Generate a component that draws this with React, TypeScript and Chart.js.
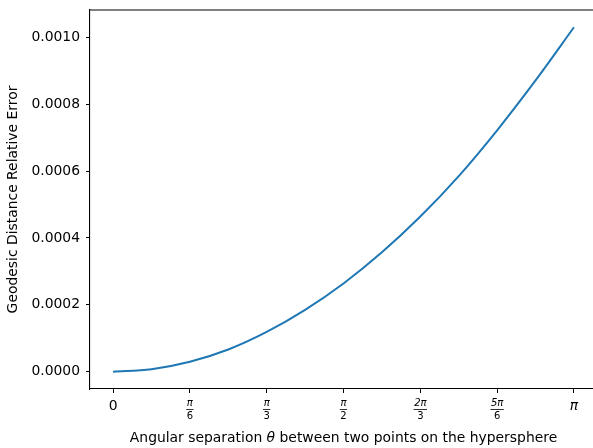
import React, { useEffect, useRef } from "react";
import { Chart, registerables } from "chart.js";

Chart.register(...registerables);

// Angular separation (radians) and relative error values
const thetaValues = [0, 0.2618, 0.5236, 0.7854, 1.0472, 1.309, 1.5708, 1.8326, 2.0944, 2.3562, 2.618, 2.8798, 3.1416];
const errorValues = [0, 0.0000075, 0.0000298, 0.0000665, 0.000119, 0.000185, 0.000264, 0.000357, 0.000464, 0.000585, 0.000722, 0.000871, 0.00103];

const xTickValues = [0, Math.PI / 6, Math.PI / 3, Math.PI / 2, (2 * Math.PI) / 3, (5 * Math.PI) / 6, Math.PI];
const xTickNumerators = ["0", "π", "π", "π", "2π", "5π", "π"];
const xTickDenominators = ["", "6", "3", "2", "3", "6", ""];
const yTickValues = [0, 0.0002, 0.0004, 0.0006, 0.0008, 0.001];

const xTitleParts = ["Angular separation ", "θ", " between two points on the hypersphere"];
const yTitle = "Geodesic Distance Relative Error";

const FONT = "'DejaVu Sans', sans-serif";

const customPlugin = {
  id: "custom",
  afterDraw(chart: any) {
    const ctx = chart.ctx;
    const area = chart.chartArea;
    const xs = chart.scales.x;
    ctx.save();
    // top and right spines
    ctx.strokeStyle = "#000";
    ctx.lineWidth = 1.1;
    ctx.beginPath();
    ctx.moveTo(area.left, area.top);
    ctx.lineTo(area.right, area.top);
    ctx.lineTo(area.right, area.bottom);
    ctx.stroke();

    ctx.fillStyle = "#000";
    ctx.textAlign = "center";
    ctx.textBaseline = "alphabetic";
    const b = area.bottom;
    xTickValues.forEach((v, i) => {
      const px = xs.getPixelForValue(v);
      const num = xTickNumerators[i];
      const den = xTickDenominators[i];
      if (!den) {
        ctx.font = (num === "π" ? "italic " : "") + "13.9px " + FONT;
        ctx.fillText(num, px, b + 21);
      } else {
        ctx.font = "italic 10px " + FONT;
        ctx.fillText(num, px, b + 17);
        const w = Math.max(ctx.measureText(num).width, ctx.measureText(den).width) + 1;
        ctx.font = "10px " + FONT;
        ctx.fillText(den, px, b + 30);
        ctx.lineWidth = 0.8;
        ctx.beginPath();
        ctx.moveTo(px - w / 2, b + 20.5);
        ctx.lineTo(px + w / 2, b + 20.5);
        ctx.stroke();
      }
    });

    // x title with italic theta
    const fonts = ["13.9px " + FONT, "italic 13.9px " + FONT, "13.9px " + FONT];
    const widths = xTitleParts.map((t, i) => {
      ctx.font = fonts[i];
      return ctx.measureText(t).width;
    });
    const total = widths.reduce((a, c) => a + c, 0);
    let x = (area.left + area.right) / 2 - total / 2;
    ctx.textAlign = "left";
    xTitleParts.forEach((t, i) => {
      ctx.font = fonts[i];
      ctx.fillText(t, x, b + 53);
      x += widths[i];
    });
    ctx.restore();
  },
};

export default function App() {
  const ref = useRef<HTMLCanvasElement>(null);
  useEffect(() => {
    if (!ref.current) return;
    const chart = new Chart(ref.current, {
      type: "line",
      data: {
        datasets: [
          {
            data: thetaValues.map((t, i) => ({ x: t, y: errorValues[i] })),
            borderColor: "#1f77b4",
            borderWidth: 2,
            pointRadius: 0,
            fill: false,
            cubicInterpolationMode: "monotone",
          },
        ],
      },
      options: {
        animation: false,
        responsive: false,
        events: [],
        layout: { padding: { top: 10, right: 8, left: 0, bottom: 0 } },
        plugins: { legend: { display: false }, tooltip: { enabled: false } },
        scales: {
          x: {
            type: "linear",
            min: -0.05 * Math.PI,
            max: 1.05 * Math.PI,
            afterBuildTicks: (s: any) => {
              s.ticks = xTickValues.map((v) => ({ value: v }));
            },
            afterFit: (s: any) => {
              s.height = 59;
            },
            ticks: { display: false },
            grid: { display: true, drawOnChartArea: false, drawTicks: true, tickLength: 4, color: "#000", lineWidth: 1 },
            border: { display: true, color: "#000", width: 1.1 },
          },
          y: {
            type: "linear",
            min: -0.0000515,
            max: 0.0010815,
            afterBuildTicks: (s: any) => {
              s.ticks = yTickValues.map((v) => ({ value: v }));
            },
            afterFit: (s: any) => {
              s.width = 90;
              s.paddingTop = 0;
              s.paddingBottom = 0;
            },
            ticks: {
              color: "#000",
              padding: 6,
              font: { family: FONT, size: 13.9 },
              callback: (v: any) => Number(v).toFixed(4),
            },
            grid: { display: true, drawOnChartArea: false, drawTicks: true, tickLength: 4, color: "#000", lineWidth: 1 },
            border: { display: true, color: "#000", width: 1.1 },
            title: {
              display: true,
              text: yTitle,
              color: "#000",
              font: { family: FONT, size: 13.9 },
              padding: { top: 5, bottom: 0 },
            },
          },
        },
      },
      plugins: [customPlugin],
    } as any);
    return () => chart.destroy();
  }, []);

  return (
    <div style={{ position: "fixed", left: 0, top: 0, width: 593, height: 448, overflow: "hidden", background: "#fff" }}>
      <canvas ref={ref} width={605} height={448} style={{ display: "block" }} />
    </div>
  );
}
